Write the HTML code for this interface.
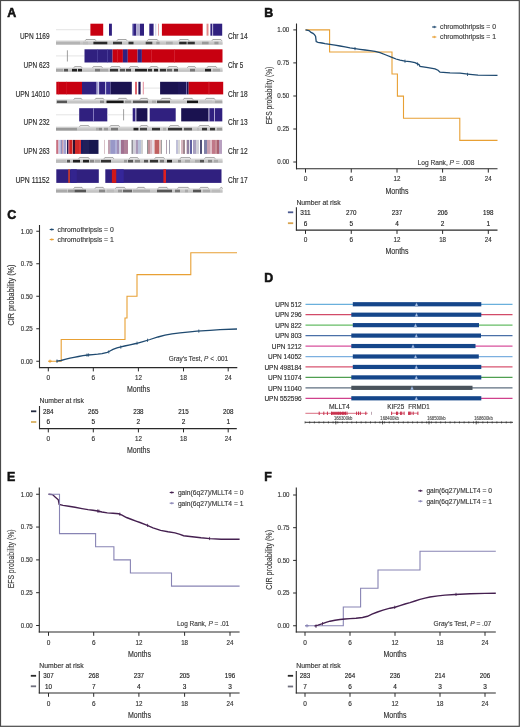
<!DOCTYPE html><html><head><meta charset="utf-8"><style>html,body{margin:0;padding:0;background:#fff;}svg{display:block;will-change:transform;font-family:"Liberation Sans",sans-serif;}</style></head><body>
<svg width="520" height="727" viewBox="0 0 520 727">
<rect x="0.00" y="0.00" width="520.00" height="727.00" fill="#fff"/>
<text x="7.3" y="17.0" font-size="12.4" text-anchor="start" fill="#111" font-weight="bold" stroke="#111" stroke-width="0.55">A</text>
<line x1="56" y1="29.7" x2="90.4" y2="29.7" stroke="#d8d8d8" stroke-width="0.7"/>
<rect x="90.40" y="23.70" width="12.80" height="12.00" fill="#c80010"/>
<rect x="109.00" y="23.70" width="2.90" height="12.00" fill="#30207f"/>
<rect x="132.40" y="23.70" width="1.60" height="12.00" fill="#5048a0"/>
<rect x="134.00" y="23.70" width="2.30" height="12.00" fill="#30207f"/>
<rect x="136.30" y="23.70" width="3.70" height="12.00" fill="#b0acd0"/>
<rect x="140.00" y="23.70" width="4.00" height="12.00" fill="#30207f"/>
<rect x="149.30" y="23.70" width="4.30" height="12.00" fill="#30207f"/>
<rect x="155.40" y="23.70" width="0.80" height="12.00" fill="#c0c0e0"/>
<rect x="158.20" y="23.70" width="0.70" height="12.00" fill="#e08080"/>
<rect x="161.90" y="23.70" width="40.80" height="12.00" fill="#c80010"/>
<rect x="206.00" y="23.70" width="0.60" height="12.00" fill="#e8a8a8"/>
<rect x="207.40" y="23.70" width="0.90" height="12.00" fill="#d04040"/>
<rect x="210.40" y="23.70" width="2.00" height="12.00" fill="#30207f"/>
<rect x="212.40" y="23.70" width="0.70" height="12.00" fill="#b8b4dc"/>
<rect x="213.10" y="23.70" width="9.10" height="12.00" fill="#30207f"/>
<rect x="56.00" y="40.50" width="166.50" height="4.10" fill="#d6d6d6"/>
<rect x="56.00" y="42.34" width="166.50" height="2.26" fill="#c4c4c4"/>
<rect x="56.00" y="41.73" width="24.00" height="2.54" fill="#b4b4b4"/>
<rect x="83.00" y="41.73" width="5.00" height="2.54" fill="#bdbdbd"/>
<rect x="93.40" y="41.73" width="13.90" height="2.54" fill="#2a2a2a"/>
<rect x="113.00" y="41.73" width="9.00" height="2.54" fill="#3a3a3a"/>
<rect x="128.50" y="41.73" width="5.00" height="2.54" fill="#333"/>
<rect x="145.70" y="41.73" width="6.60" height="2.54" fill="#444"/>
<rect x="156.30" y="41.73" width="3.30" height="2.54" fill="#999"/>
<rect x="166.00" y="41.73" width="6.70" height="2.54" fill="#aaa"/>
<rect x="179.20" y="41.73" width="7.40" height="2.54" fill="#2a2a2a"/>
<rect x="187.60" y="41.73" width="7.20" height="2.54" fill="#333"/>
<rect x="202.00" y="41.73" width="6.60" height="2.54" fill="#999"/>
<rect x="214.40" y="41.73" width="4.10" height="2.54" fill="#999"/>
<polyline points="85.2,40.7 86.0,39.5 95.10000000000001,39.5 95.9,40.7" fill="none" stroke="#808080" stroke-width="0.7"/>
<polyline points="117,40.7 117.8,39.5 126.2,39.5 127,40.7" fill="none" stroke="#808080" stroke-width="0.7"/>
<polyline points="147.4,40.7 148.20000000000002,39.5 157.2,39.5 158,40.7" fill="none" stroke="#808080" stroke-width="0.7"/>
<polyline points="179,40.7 179.8,39.5 188.2,39.5 189,40.7" fill="none" stroke="#808080" stroke-width="0.7"/>
<polyline points="212,40.7 212.8,39.5 220.89999999999998,39.5 221.7,40.7" fill="none" stroke="#808080" stroke-width="0.7"/>
<text x="49.6" y="39.05" font-size="8.3" text-anchor="end" fill="#2a2a2a" font-weight="normal" textLength="29.7" lengthAdjust="spacingAndGlyphs" stroke="#2a2a2a" stroke-width="0.15">UPN 1169</text>
<text x="227.9" y="39.05" font-size="8.3" text-anchor="start" fill="#2a2a2a" font-weight="normal" textLength="19.8" lengthAdjust="spacingAndGlyphs" stroke="#2a2a2a" stroke-width="0.15">Chr 14</text>
<line x1="56" y1="55.9" x2="84.5" y2="55.9" stroke="#d8d8d8" stroke-width="0.7"/>
<line x1="67.4" y1="50.3" x2="67.4" y2="61.5" stroke="#888" stroke-width="0.8"/>
<rect x="84.50" y="49.30" width="28.10" height="13.20" fill="#30207f"/>
<rect x="97.10" y="49.30" width="0.60" height="13.20" fill="#5a50a8"/>
<rect x="107.10" y="49.30" width="0.60" height="13.20" fill="#5a50a8"/>
<rect x="112.60" y="49.30" width="10.30" height="13.20" fill="#c80010"/>
<rect x="117.00" y="49.30" width="0.60" height="13.20" fill="#d83040"/>
<rect x="122.90" y="49.30" width="4.90" height="13.20" fill="#30207f"/>
<rect x="127.80" y="49.30" width="9.80" height="13.20" fill="#c80010"/>
<rect x="137.60" y="49.30" width="4.30" height="13.20" fill="#30207f"/>
<rect x="141.90" y="49.30" width="80.60" height="13.20" fill="#c80010"/>
<rect x="151.20" y="49.30" width="0.60" height="13.20" fill="#d83040"/>
<rect x="174.00" y="49.30" width="0.60" height="13.20" fill="#d83040"/>
<rect x="56.00" y="67.60" width="166.50" height="4.20" fill="#d6d6d6"/>
<rect x="56.00" y="69.49" width="166.50" height="2.31" fill="#c4c4c4"/>
<rect x="56.00" y="68.86" width="7.00" height="2.60" fill="#a8a8a8"/>
<rect x="64.00" y="68.86" width="4.00" height="2.60" fill="#555"/>
<rect x="72.00" y="68.86" width="5.00" height="2.60" fill="#222"/>
<rect x="78.00" y="68.86" width="4.00" height="2.60" fill="#222"/>
<rect x="95.00" y="68.86" width="5.00" height="2.60" fill="#777"/>
<rect x="100.00" y="68.86" width="8.00" height="2.60" fill="#aaa"/>
<rect x="110.00" y="68.86" width="8.00" height="2.60" fill="#333"/>
<rect x="120.00" y="68.86" width="5.00" height="2.60" fill="#555"/>
<rect x="126.00" y="68.86" width="5.00" height="2.60" fill="#444"/>
<rect x="135.00" y="68.86" width="12.00" height="2.60" fill="#222"/>
<rect x="148.00" y="68.86" width="4.00" height="2.60" fill="#333"/>
<rect x="154.00" y="68.86" width="4.00" height="2.60" fill="#222"/>
<rect x="160.00" y="68.86" width="6.00" height="2.60" fill="#333"/>
<rect x="167.00" y="68.86" width="5.00" height="2.60" fill="#666"/>
<rect x="174.00" y="68.86" width="4.00" height="2.60" fill="#444"/>
<rect x="190.00" y="68.86" width="5.00" height="2.60" fill="#777"/>
<rect x="205.00" y="68.86" width="6.00" height="2.60" fill="#222"/>
<rect x="213.00" y="68.86" width="7.00" height="2.60" fill="#aaa"/>
<polyline points="73.8,67.8 74.6,66.6 81.2,66.6 82,67.8" fill="none" stroke="#808080" stroke-width="0.7"/>
<polyline points="92.6,67.8 93.39999999999999,66.6 101.60000000000001,66.6 102.4,67.8" fill="none" stroke="#808080" stroke-width="0.7"/>
<polyline points="110.6,67.8 111.39999999999999,66.6 119.60000000000001,66.6 120.4,67.8" fill="none" stroke="#808080" stroke-width="0.7"/>
<polyline points="129.4,67.8 130.20000000000002,66.6 137.6,66.6 138.4,67.8" fill="none" stroke="#808080" stroke-width="0.7"/>
<polyline points="149.8,67.8 150.60000000000002,66.6 157.2,66.6 158,67.8" fill="none" stroke="#808080" stroke-width="0.7"/>
<polyline points="167.8,67.8 168.60000000000002,66.6 176.79999999999998,66.6 177.6,67.8" fill="none" stroke="#808080" stroke-width="0.7"/>
<polyline points="187.4,67.8 188.20000000000002,66.6 194.79999999999998,66.6 195.6,67.8" fill="none" stroke="#808080" stroke-width="0.7"/>
<polyline points="207,67.8 207.8,66.6 216.0,66.6 216.8,67.8" fill="none" stroke="#808080" stroke-width="0.7"/>
<text x="49.6" y="67.95" font-size="8.3" text-anchor="end" fill="#2a2a2a" font-weight="normal" textLength="26.0" lengthAdjust="spacingAndGlyphs" stroke="#2a2a2a" stroke-width="0.15">UPN 623</text>
<text x="227.9" y="67.95" font-size="8.3" text-anchor="start" fill="#2a2a2a" font-weight="normal" textLength="15.5" lengthAdjust="spacingAndGlyphs" stroke="#2a2a2a" stroke-width="0.15">Chr 5</text>
<rect x="56.30" y="81.80" width="25.70" height="12.60" fill="#c80010"/>
<rect x="58.40" y="81.80" width="0.60" height="12.60" fill="#d41828"/>
<rect x="66.20" y="81.80" width="0.60" height="12.60" fill="#d41828"/>
<rect x="82.00" y="81.80" width="14.70" height="12.60" fill="#30207f"/>
<rect x="96.70" y="81.80" width="0.80" height="12.60" fill="#c8c8e8"/>
<rect x="97.50" y="81.80" width="0.80" height="12.60" fill="#6a62b0"/>
<rect x="98.30" y="81.80" width="0.80" height="12.60" fill="#c8c8e8"/>
<rect x="99.10" y="81.80" width="6.20" height="12.60" fill="#30207f"/>
<rect x="105.30" y="81.80" width="0.80" height="12.60" fill="#b8b8e0"/>
<rect x="106.10" y="81.80" width="4.50" height="12.60" fill="#3a2e90"/>
<rect x="110.60" y="81.80" width="21.20" height="12.60" fill="#1a1250"/>
<rect x="135.40" y="81.80" width="1.20" height="12.60" fill="#c80010"/>
<rect x="138.40" y="81.80" width="2.20" height="12.60" fill="#1a1250"/>
<rect x="142.80" y="81.80" width="0.90" height="12.60" fill="#e08090"/>
<line x1="144" y1="88.1" x2="160" y2="88.1" stroke="#d8d8d8" stroke-width="0.7"/>
<rect x="160.10" y="81.80" width="17.90" height="12.60" fill="#1a1250"/>
<rect x="178.00" y="81.80" width="8.00" height="12.60" fill="#1e1558"/>
<rect x="186.00" y="81.80" width="0.80" height="12.60" fill="#6a62b0"/>
<rect x="186.80" y="81.80" width="1.90" height="12.60" fill="#1a1250"/>
<rect x="188.70" y="81.80" width="34.50" height="12.60" fill="#c80010"/>
<rect x="208.60" y="81.80" width="0.70" height="12.60" fill="#d83040"/>
<rect x="56.00" y="99.40" width="166.50" height="4.00" fill="#d6d6d6"/>
<rect x="56.00" y="101.20" width="166.50" height="2.20" fill="#c4c4c4"/>
<rect x="57.00" y="100.60" width="10.00" height="2.48" fill="#555"/>
<rect x="100.00" y="100.60" width="4.00" height="2.48" fill="#888"/>
<rect x="106.50" y="100.60" width="17.10" height="2.48" fill="#151515"/>
<rect x="125.00" y="100.60" width="6.00" height="2.48" fill="#999"/>
<rect x="133.00" y="100.60" width="15.00" height="2.48" fill="#555"/>
<rect x="152.00" y="100.60" width="4.00" height="2.48" fill="#aaa"/>
<rect x="157.00" y="100.60" width="13.00" height="2.48" fill="#444"/>
<rect x="187.00" y="100.60" width="11.00" height="2.48" fill="#151515"/>
<rect x="200.00" y="100.60" width="12.00" height="2.48" fill="#c4c4c4"/>
<rect x="215.00" y="100.60" width="7.00" height="2.48" fill="#aaa"/>
<polyline points="73.8,99.60000000000001 74.6,98.4 81.2,98.4 82,99.60000000000001" fill="none" stroke="#808080" stroke-width="0.7"/>
<polyline points="95,99.60000000000001 95.8,98.4 103.2,98.4 104,99.60000000000001" fill="none" stroke="#808080" stroke-width="0.7"/>
<polyline points="118,99.60000000000001 118.8,98.4 126.2,98.4 127,99.60000000000001" fill="none" stroke="#808080" stroke-width="0.7"/>
<polyline points="140,99.60000000000001 140.8,98.4 147.2,98.4 148,99.60000000000001" fill="none" stroke="#808080" stroke-width="0.7"/>
<polyline points="161,99.60000000000001 161.8,98.4 170.2,98.4 171,99.60000000000001" fill="none" stroke="#808080" stroke-width="0.7"/>
<polyline points="183.3,99.60000000000001 184.10000000000002,98.4 192.2,98.4 193,99.60000000000001" fill="none" stroke="#808080" stroke-width="0.7"/>
<polyline points="205.4,99.60000000000001 206.20000000000002,98.4 214.2,98.4 215,99.60000000000001" fill="none" stroke="#808080" stroke-width="0.7"/>
<text x="49.6" y="96.75" font-size="8.3" text-anchor="end" fill="#2a2a2a" font-weight="normal" textLength="34.2" lengthAdjust="spacingAndGlyphs" stroke="#2a2a2a" stroke-width="0.15">UPN 14010</text>
<text x="227.9" y="96.75" font-size="8.3" text-anchor="start" fill="#2a2a2a" font-weight="normal" textLength="19.8" lengthAdjust="spacingAndGlyphs" stroke="#2a2a2a" stroke-width="0.15">Chr 18</text>
<line x1="56" y1="114.8" x2="79.2" y2="114.8" stroke="#d8d8d8" stroke-width="0.7"/>
<rect x="79.20" y="108.20" width="28.10" height="13.20" fill="#30207f"/>
<rect x="93.10" y="108.20" width="0.70" height="13.20" fill="#a8a0d8"/>
<line x1="107.3" y1="114.8" x2="132.7" y2="114.8" stroke="#d8d8d8" stroke-width="0.7"/>
<line x1="123.6" y1="109.2" x2="123.6" y2="120.4" stroke="#888" stroke-width="0.8"/>
<rect x="132.70" y="108.20" width="2.80" height="13.20" fill="#30207f"/>
<rect x="135.50" y="108.20" width="0.90" height="13.20" fill="#b0a8d8"/>
<rect x="136.40" y="108.20" width="11.00" height="13.20" fill="#1a1250"/>
<rect x="149.70" y="108.20" width="26.00" height="13.20" fill="#30207f"/>
<rect x="181.20" y="108.20" width="27.40" height="13.20" fill="#1a1250"/>
<rect x="208.60" y="108.20" width="0.80" height="13.20" fill="#a8a0d0"/>
<rect x="209.40" y="108.20" width="4.80" height="13.20" fill="#30207f"/>
<rect x="214.20" y="108.20" width="0.80" height="13.20" fill="#a8a0d0"/>
<rect x="215.00" y="108.20" width="7.30" height="13.20" fill="#30207f"/>
<rect x="56.00" y="126.60" width="166.50" height="4.10" fill="#d6d6d6"/>
<rect x="56.00" y="128.44" width="166.50" height="2.25" fill="#c4c4c4"/>
<rect x="56.00" y="127.83" width="21.00" height="2.54" fill="#9a9a9a"/>
<rect x="96.00" y="127.83" width="3.00" height="2.54" fill="#aaa"/>
<rect x="99.00" y="127.83" width="3.00" height="2.54" fill="#888"/>
<rect x="104.00" y="127.83" width="4.00" height="2.54" fill="#999"/>
<rect x="111.00" y="127.83" width="7.00" height="2.54" fill="#777"/>
<rect x="133.50" y="127.83" width="4.90" height="2.54" fill="#222"/>
<rect x="140.00" y="127.83" width="7.00" height="2.54" fill="#444"/>
<rect x="152.00" y="127.83" width="8.00" height="2.54" fill="#333"/>
<rect x="163.00" y="127.83" width="3.00" height="2.54" fill="#aaa"/>
<rect x="168.00" y="127.83" width="14.00" height="2.54" fill="#333"/>
<rect x="184.00" y="127.83" width="8.00" height="2.54" fill="#555"/>
<rect x="197.00" y="127.83" width="2.00" height="2.54" fill="#bbb"/>
<rect x="202.00" y="127.83" width="5.00" height="2.54" fill="#333"/>
<rect x="210.00" y="127.83" width="5.00" height="2.54" fill="#333"/>
<rect x="217.00" y="127.83" width="5.00" height="2.54" fill="#999"/>
<polyline points="79.5,126.8 80.3,125.6 88.5,125.6 89.3,126.8" fill="none" stroke="#808080" stroke-width="0.7"/>
<polyline points="109.8,126.8 110.6,125.6 118.8,125.6 119.6,126.8" fill="none" stroke="#808080" stroke-width="0.7"/>
<polyline points="140,126.8 140.8,125.6 147.2,125.6 148,126.8" fill="none" stroke="#808080" stroke-width="0.7"/>
<polyline points="169.4,126.8 170.20000000000002,125.6 178.39999999999998,125.6 179.2,126.8" fill="none" stroke="#808080" stroke-width="0.7"/>
<polyline points="198.8,126.8 199.60000000000002,125.6 208.7,125.6 209.5,126.8" fill="none" stroke="#808080" stroke-width="0.7"/>
<text x="49.6" y="125.15" font-size="8.3" text-anchor="end" fill="#2a2a2a" font-weight="normal" textLength="26.0" lengthAdjust="spacingAndGlyphs" stroke="#2a2a2a" stroke-width="0.15">UPN 232</text>
<text x="227.9" y="125.15" font-size="8.3" text-anchor="start" fill="#2a2a2a" font-weight="normal" textLength="19.8" lengthAdjust="spacingAndGlyphs" stroke="#2a2a2a" stroke-width="0.15">Chr 13</text>
<rect x="56.20" y="139.90" width="2.30" height="14.00" fill="#c87080"/>
<rect x="58.50" y="139.90" width="2.00" height="14.00" fill="#c8c8e4"/>
<rect x="60.50" y="139.90" width="1.50" height="14.00" fill="#9090c0"/>
<rect x="62.00" y="139.90" width="1.50" height="14.00" fill="#c8a0b0"/>
<rect x="63.50" y="139.90" width="2.50" height="14.00" fill="#a0a0d0"/>
<rect x="66.00" y="139.90" width="1.00" height="14.00" fill="#e8e8f0"/>
<rect x="67.00" y="139.90" width="1.50" height="14.00" fill="#201850"/>
<rect x="68.50" y="139.90" width="1.50" height="14.00" fill="#d04050"/>
<rect x="70.00" y="139.90" width="2.00" height="14.00" fill="#d02020"/>
<rect x="72.00" y="139.90" width="1.00" height="14.00" fill="#d08080"/>
<rect x="73.00" y="139.90" width="2.00" height="14.00" fill="#301030"/>
<rect x="75.00" y="139.90" width="4.00" height="14.00" fill="#d02828"/>
<rect x="79.00" y="139.90" width="2.00" height="14.00" fill="#e03030"/>
<rect x="81.00" y="139.90" width="2.00" height="14.00" fill="#1a1a60"/>
<rect x="83.00" y="139.90" width="6.00" height="14.00" fill="#20205a"/>
<rect x="89.00" y="139.90" width="9.50" height="14.00" fill="#181850"/>
<rect x="104.20" y="139.90" width="0.70" height="14.00" fill="#c8a8b0"/>
<rect x="108.00" y="139.90" width="2.00" height="14.00" fill="#c0a0b0"/>
<rect x="110.00" y="139.90" width="1.00" height="14.00" fill="#a8a8c8"/>
<rect x="111.00" y="139.90" width="4.00" height="14.00" fill="#9898c8"/>
<rect x="115.00" y="139.90" width="2.00" height="14.00" fill="#b0b0d8"/>
<rect x="117.00" y="139.90" width="2.00" height="14.00" fill="#a090b8"/>
<rect x="119.00" y="139.90" width="2.00" height="14.00" fill="#d0d0e0"/>
<rect x="121.00" y="139.90" width="3.00" height="14.00" fill="#a07090"/>
<rect x="124.00" y="139.90" width="4.00" height="14.00" fill="#b08098"/>
<rect x="131.50" y="139.90" width="1.50" height="14.00" fill="#909098"/>
<rect x="133.00" y="139.90" width="2.00" height="14.00" fill="#d0d0d8"/>
<rect x="135.50" y="139.90" width="2.50" height="14.00" fill="#a898b8"/>
<rect x="138.00" y="139.90" width="3.00" height="14.00" fill="#b8c0d8"/>
<rect x="141.00" y="139.90" width="2.00" height="14.00" fill="#d0d0d0"/>
<rect x="147.00" y="139.90" width="1.00" height="14.00" fill="#909090"/>
<rect x="148.00" y="139.90" width="2.00" height="14.00" fill="#c09098"/>
<rect x="150.00" y="139.90" width="2.00" height="14.00" fill="#d8b8c0"/>
<rect x="152.00" y="139.90" width="2.00" height="14.00" fill="#e8e0e8"/>
<rect x="154.50" y="139.90" width="4.50" height="14.00" fill="#c06060"/>
<rect x="159.00" y="139.90" width="2.00" height="14.00" fill="#e0c0c0"/>
<rect x="161.00" y="139.90" width="1.00" height="14.00" fill="#a0a0a0"/>
<rect x="166.00" y="139.90" width="1.00" height="14.00" fill="#b0a0b0"/>
<rect x="169.00" y="139.90" width="1.00" height="14.00" fill="#a0a0b0"/>
<rect x="176.00" y="139.90" width="2.00" height="14.00" fill="#c0c0d8"/>
<rect x="178.00" y="139.90" width="2.00" height="14.00" fill="#d8d8d8"/>
<rect x="181.00" y="139.90" width="2.00" height="14.00" fill="#d8b8c0"/>
<rect x="183.00" y="139.90" width="2.00" height="14.00" fill="#a08890"/>
<rect x="186.00" y="139.90" width="1.00" height="14.00" fill="#e0d0d8"/>
<rect x="187.00" y="139.90" width="2.00" height="14.00" fill="#9080a0"/>
<rect x="189.00" y="139.90" width="1.00" height="14.00" fill="#e0e0e8"/>
<rect x="190.00" y="139.90" width="2.00" height="14.00" fill="#6060a0"/>
<rect x="193.00" y="139.90" width="3.00" height="14.00" fill="#a8a0c0"/>
<rect x="196.00" y="139.90" width="3.00" height="14.00" fill="#d0d0d8"/>
<rect x="200.00" y="139.90" width="2.00" height="14.00" fill="#505078"/>
<rect x="204.00" y="139.90" width="3.00" height="14.00" fill="#8080a8"/>
<rect x="207.00" y="139.90" width="3.00" height="14.00" fill="#c8a0b0"/>
<rect x="210.00" y="139.90" width="2.00" height="14.00" fill="#e0c0c8"/>
<rect x="212.00" y="139.90" width="3.00" height="14.00" fill="#c07888"/>
<rect x="215.00" y="139.90" width="2.00" height="14.00" fill="#c89098"/>
<rect x="217.00" y="139.90" width="2.00" height="14.00" fill="#a86070"/>
<rect x="219.00" y="139.90" width="3.00" height="14.00" fill="#b8a0c0"/>
<rect x="56.00" y="158.60" width="166.50" height="4.20" fill="#d6d6d6"/>
<rect x="56.00" y="160.49" width="166.50" height="2.31" fill="#c4c4c4"/>
<rect x="56.00" y="159.86" width="10.00" height="2.60" fill="#bbb"/>
<rect x="67.00" y="159.86" width="3.00" height="2.60" fill="#555"/>
<rect x="73.00" y="159.86" width="7.00" height="2.60" fill="#222"/>
<rect x="83.00" y="159.86" width="6.00" height="2.60" fill="#222"/>
<rect x="90.00" y="159.86" width="4.00" height="2.60" fill="#888"/>
<rect x="95.00" y="159.86" width="5.00" height="2.60" fill="#aaa"/>
<rect x="101.00" y="159.86" width="10.00" height="2.60" fill="#333"/>
<rect x="124.00" y="159.86" width="3.00" height="2.60" fill="#999"/>
<rect x="128.00" y="159.86" width="5.00" height="2.60" fill="#555"/>
<rect x="135.00" y="159.86" width="5.00" height="2.60" fill="#888"/>
<rect x="144.00" y="159.86" width="4.00" height="2.60" fill="#555"/>
<rect x="150.00" y="159.86" width="8.00" height="2.60" fill="#333"/>
<rect x="160.00" y="159.86" width="4.00" height="2.60" fill="#777"/>
<rect x="167.00" y="159.86" width="5.00" height="2.60" fill="#222"/>
<rect x="178.00" y="159.86" width="3.00" height="2.60" fill="#888"/>
<rect x="185.00" y="159.86" width="5.00" height="2.60" fill="#aaa"/>
<rect x="195.00" y="159.86" width="5.00" height="2.60" fill="#aaa"/>
<rect x="200.00" y="159.86" width="4.00" height="2.60" fill="#555"/>
<rect x="208.00" y="159.86" width="4.00" height="2.60" fill="#888"/>
<rect x="214.00" y="159.86" width="4.00" height="2.60" fill="#aaa"/>
<polyline points="78.7,158.79999999999998 79.5,157.6 88.5,157.6 89.3,158.79999999999998" fill="none" stroke="#808080" stroke-width="0.7"/>
<polyline points="104,158.79999999999998 104.8,157.6 113.0,157.6 113.8,158.79999999999998" fill="none" stroke="#808080" stroke-width="0.7"/>
<polyline points="129.4,158.79999999999998 130.20000000000002,157.6 137.6,157.6 138.4,158.79999999999998" fill="none" stroke="#808080" stroke-width="0.7"/>
<polyline points="154.7,158.79999999999998 155.5,157.6 163.7,157.6 164.5,158.79999999999998" fill="none" stroke="#808080" stroke-width="0.7"/>
<polyline points="180,158.79999999999998 180.8,157.6 189.89999999999998,157.6 190.7,158.79999999999998" fill="none" stroke="#808080" stroke-width="0.7"/>
<polyline points="204.6,158.79999999999998 205.4,157.6 214.39999999999998,157.6 215.2,158.79999999999998" fill="none" stroke="#808080" stroke-width="0.7"/>
<text x="49.6" y="154.15" font-size="8.3" text-anchor="end" fill="#2a2a2a" font-weight="normal" textLength="26.0" lengthAdjust="spacingAndGlyphs" stroke="#2a2a2a" stroke-width="0.15">UPN 263</text>
<text x="227.9" y="154.15" font-size="8.3" text-anchor="start" fill="#2a2a2a" font-weight="normal" textLength="19.8" lengthAdjust="spacingAndGlyphs" stroke="#2a2a2a" stroke-width="0.15">Chr 12</text>
<rect x="56.30" y="169.30" width="42.50" height="13.60" fill="#30207f"/>
<rect x="68.30" y="169.30" width="1.50" height="13.60" fill="#e04020"/>
<rect x="70.60" y="169.30" width="6.20" height="13.60" fill="#33248e"/>
<rect x="105.30" y="169.30" width="116.20" height="13.60" fill="#30207f"/>
<rect x="111.90" y="169.30" width="4.90" height="13.60" fill="#d01818"/>
<rect x="116.30" y="169.30" width="7.40" height="13.60" fill="#35269a"/>
<rect x="163.40" y="169.30" width="2.60" height="13.60" fill="#e02020"/>
<rect x="56.00" y="188.40" width="166.50" height="4.20" fill="#d6d6d6"/>
<rect x="56.00" y="190.29" width="166.50" height="2.31" fill="#c4c4c4"/>
<rect x="56.00" y="189.66" width="11.00" height="2.60" fill="#aaa"/>
<rect x="68.00" y="189.66" width="6.60" height="2.60" fill="#999"/>
<rect x="74.60" y="189.66" width="11.40" height="2.60" fill="#555"/>
<rect x="99.00" y="189.66" width="6.00" height="2.60" fill="#888"/>
<rect x="107.00" y="189.66" width="7.00" height="2.60" fill="#bbb"/>
<rect x="118.00" y="189.66" width="4.00" height="2.60" fill="#999"/>
<rect x="123.00" y="189.66" width="9.00" height="2.60" fill="#666"/>
<rect x="133.00" y="189.66" width="17.00" height="2.60" fill="#aaa"/>
<rect x="157.00" y="189.66" width="15.00" height="2.60" fill="#555"/>
<rect x="175.00" y="189.66" width="5.00" height="2.60" fill="#777"/>
<rect x="185.00" y="189.66" width="3.00" height="2.60" fill="#aaa"/>
<rect x="193.00" y="189.66" width="8.00" height="2.60" fill="#555"/>
<rect x="203.00" y="189.66" width="7.00" height="2.60" fill="#aaa"/>
<rect x="212.00" y="189.66" width="8.00" height="2.60" fill="#bbb"/>
<polyline points="73.8,188.6 74.6,187.4 82.0,187.4 82.8,188.6" fill="none" stroke="#808080" stroke-width="0.7"/>
<polyline points="95,188.6 95.8,187.4 103.2,187.4 104,188.6" fill="none" stroke="#808080" stroke-width="0.7"/>
<polyline points="115.5,188.6 116.3,187.4 124.5,187.4 125.3,188.6" fill="none" stroke="#808080" stroke-width="0.7"/>
<polyline points="137,188.6 137.8,187.4 144.2,187.4 145,188.6" fill="none" stroke="#808080" stroke-width="0.7"/>
<polyline points="158,188.6 158.8,187.4 167.0,187.4 167.8,188.6" fill="none" stroke="#808080" stroke-width="0.7"/>
<polyline points="177.6,188.6 178.4,187.4 188.2,187.4 189,188.6" fill="none" stroke="#808080" stroke-width="0.7"/>
<polyline points="199.7,188.6 200.5,187.4 207.79999999999998,187.4 208.6,188.6" fill="none" stroke="#808080" stroke-width="0.7"/>
<polyline points="220,188.6 220.8,187.4 221.7,187.4 222.5,188.6" fill="none" stroke="#808080" stroke-width="0.7"/>
<text x="49.6" y="183.35" font-size="8.3" text-anchor="end" fill="#2a2a2a" font-weight="normal" textLength="34.2" lengthAdjust="spacingAndGlyphs" stroke="#2a2a2a" stroke-width="0.15">UPN 11152</text>
<text x="227.9" y="183.35" font-size="8.3" text-anchor="start" fill="#2a2a2a" font-weight="normal" textLength="19.8" lengthAdjust="spacingAndGlyphs" stroke="#2a2a2a" stroke-width="0.15">Chr 17</text>
<text x="264.15" y="16.900000000000002" font-size="12.4" text-anchor="start" fill="#111" font-weight="bold" stroke="#111" stroke-width="0.55">B</text>
<line x1="296.5" y1="23.5" x2="296.5" y2="169.3" stroke="#2a2a2a" stroke-width="1.1"/>
<line x1="296.0" y1="168.8" x2="497.5" y2="168.8" stroke="#2a2a2a" stroke-width="1.1"/>
<line x1="293.3" y1="29.9" x2="296.5" y2="29.9" stroke="#2a2a2a" stroke-width="1"/>
<text x="289.3" y="32.31" font-size="6.8" text-anchor="end" fill="#333" font-weight="normal" textLength="12.0" lengthAdjust="spacingAndGlyphs" stroke="#333" stroke-width="0.15">1.00</text>
<line x1="293.3" y1="62.9" x2="296.5" y2="62.9" stroke="#2a2a2a" stroke-width="1"/>
<text x="289.3" y="65.31" font-size="6.8" text-anchor="end" fill="#333" font-weight="normal" textLength="12.0" lengthAdjust="spacingAndGlyphs" stroke="#333" stroke-width="0.15">0.75</text>
<line x1="293.3" y1="96.0" x2="296.5" y2="96.0" stroke="#2a2a2a" stroke-width="1"/>
<text x="289.3" y="98.41" font-size="6.8" text-anchor="end" fill="#333" font-weight="normal" textLength="12.0" lengthAdjust="spacingAndGlyphs" stroke="#333" stroke-width="0.15">0.50</text>
<line x1="293.3" y1="129.0" x2="296.5" y2="129.0" stroke="#2a2a2a" stroke-width="1"/>
<text x="289.3" y="131.41" font-size="6.8" text-anchor="end" fill="#333" font-weight="normal" textLength="12.0" lengthAdjust="spacingAndGlyphs" stroke="#333" stroke-width="0.15">0.25</text>
<line x1="293.3" y1="162.0" x2="296.5" y2="162.0" stroke="#2a2a2a" stroke-width="1"/>
<text x="289.3" y="164.41" font-size="6.8" text-anchor="end" fill="#333" font-weight="normal" textLength="12.0" lengthAdjust="spacingAndGlyphs" stroke="#333" stroke-width="0.15">0.00</text>
<line x1="305.5" y1="168.8" x2="305.5" y2="172.60000000000002" stroke="#2a2a2a" stroke-width="1"/>
<text x="305.5" y="181.21" font-size="6.8" text-anchor="middle" fill="#333" font-weight="normal" textLength="3.6" lengthAdjust="spacingAndGlyphs" stroke="#333" stroke-width="0.15">0</text>
<line x1="351.25" y1="168.8" x2="351.25" y2="172.60000000000002" stroke="#2a2a2a" stroke-width="1"/>
<text x="351.25" y="181.21" font-size="6.8" text-anchor="middle" fill="#333" font-weight="normal" textLength="3.6" lengthAdjust="spacingAndGlyphs" stroke="#333" stroke-width="0.15">6</text>
<line x1="397" y1="168.8" x2="397" y2="172.60000000000002" stroke="#2a2a2a" stroke-width="1"/>
<text x="397" y="181.21" font-size="6.8" text-anchor="middle" fill="#333" font-weight="normal" textLength="6.9" lengthAdjust="spacingAndGlyphs" stroke="#333" stroke-width="0.15">12</text>
<line x1="442.6" y1="168.8" x2="442.6" y2="172.60000000000002" stroke="#2a2a2a" stroke-width="1"/>
<text x="442.6" y="181.21" font-size="6.8" text-anchor="middle" fill="#333" font-weight="normal" textLength="6.9" lengthAdjust="spacingAndGlyphs" stroke="#333" stroke-width="0.15">18</text>
<line x1="488.3" y1="168.8" x2="488.3" y2="172.60000000000002" stroke="#2a2a2a" stroke-width="1"/>
<text x="488.3" y="181.21" font-size="6.8" text-anchor="middle" fill="#333" font-weight="normal" textLength="6.9" lengthAdjust="spacingAndGlyphs" stroke="#333" stroke-width="0.15">24</text>
<text x="397" y="193.51" font-size="8.2" text-anchor="middle" fill="#333" font-weight="normal" textLength="23" lengthAdjust="spacingAndGlyphs" stroke="#333" stroke-width="0.15">Months</text>
<text transform="translate(272.0,95.5) rotate(-90)" x="0" y="0" font-size="8.7" text-anchor="middle" fill="#3a3a3a" stroke="#3a3a3a" stroke-width="0.15" textLength="57.7" lengthAdjust="spacingAndGlyphs">EFS probability (%)</text>
<polyline points="305.50,29.90 329.60,29.90 329.60,52.00 392.00,52.00 392.00,74.00 397.40,74.00 397.40,96.10 403.50,96.10 403.50,118.20 459.80,118.20 459.80,140.40 497.50,140.40 497.50,140.40" fill="none" stroke="#e8a034" stroke-width="1.1" stroke-linejoin="miter"/>
<polyline points="305.50,29.90 309.00,30.60 311.00,32.40 313.00,33.40 314.50,34.60 315.60,36.40 316.20,41.60 318.00,42.40 322.00,43.00 325.00,43.60 330.00,44.40 335.00,45.20 340.00,46.00 345.00,46.80 350.00,47.90 355.00,48.60 360.00,49.30 365.00,50.00 370.00,50.60 375.00,51.40 380.00,52.60 386.00,55.00 392.00,57.30 396.00,59.00 400.00,60.20 405.00,61.20 410.00,61.60 415.00,62.60 419.00,64.60 420.00,66.40 428.00,67.60 435.00,68.80 438.00,70.20 440.00,72.20 450.00,72.90 460.00,73.20 470.00,74.30 478.00,75.10 497.50,75.30" fill="none" stroke="#1f4a70" stroke-width="1.3" stroke-linejoin="miter"/>
<line x1="355" y1="47.0" x2="355" y2="50.2" stroke="#1f4a70" stroke-width="0.8"/>
<line x1="405" y1="59.6" x2="405" y2="62.8" stroke="#1f4a70" stroke-width="0.8"/>
<line x1="417.5" y1="62.4" x2="417.5" y2="65.6" stroke="#1f4a70" stroke-width="0.8"/>
<line x1="467.5" y1="72.8" x2="467.5" y2="76.0" stroke="#1f4a70" stroke-width="0.8"/>
<line x1="432.2" y1="27.0" x2="436.3" y2="27.0" stroke="#1f4a70" stroke-width="1.2"/>
<line x1="434.3" y1="25.8" x2="434.3" y2="28.2" stroke="#1f4a70" stroke-width="0.8"/>
<text x="440" y="29.48" font-size="7" text-anchor="start" fill="#3a3a3a" font-weight="normal" textLength="56" lengthAdjust="spacingAndGlyphs" stroke="#3a3a3a" stroke-width="0.15">chromothripsis = 0</text>
<line x1="432.2" y1="37.0" x2="436.3" y2="37.0" stroke="#e8a034" stroke-width="1.2"/>
<line x1="434.3" y1="35.8" x2="434.3" y2="38.2" stroke="#e8a034" stroke-width="0.8"/>
<text x="440" y="39.48" font-size="7" text-anchor="start" fill="#3a3a3a" font-weight="normal" textLength="56" lengthAdjust="spacingAndGlyphs" stroke="#3a3a3a" stroke-width="0.15">chromothripsis = 1</text>
<text x="417.5" y="164.99" font-size="7" fill="#3a3a3a" stroke="#3a3a3a" stroke-width="0.15" textLength="57" lengthAdjust="spacingAndGlyphs">Log Rank, <tspan font-style="italic">P</tspan> = .008</text>
<text x="296.4" y="204.56" font-size="7.2" text-anchor="start" fill="#333" font-weight="normal" textLength="44.3" lengthAdjust="spacingAndGlyphs" stroke="#333" stroke-width="0.15">Number at risk</text>
<line x1="296.4" y1="207.3" x2="296.4" y2="230.6" stroke="#2a2a2a" stroke-width="1.1"/>
<line x1="295.9" y1="230.1" x2="497.5" y2="230.1" stroke="#2a2a2a" stroke-width="1.1"/>
<line x1="287.9" y1="212.3" x2="293.2" y2="212.3" stroke="#4a5a90" stroke-width="1.8"/>
<text x="305.5" y="214.71" font-size="6.8" text-anchor="middle" fill="#222" font-weight="normal" textLength="10.4" lengthAdjust="spacingAndGlyphs" stroke="#222" stroke-width="0.15">311</text>
<text x="351.25" y="214.71" font-size="6.8" text-anchor="middle" fill="#222" font-weight="normal" textLength="10.4" lengthAdjust="spacingAndGlyphs" stroke="#222" stroke-width="0.15">270</text>
<text x="397" y="214.71" font-size="6.8" text-anchor="middle" fill="#222" font-weight="normal" textLength="10.4" lengthAdjust="spacingAndGlyphs" stroke="#222" stroke-width="0.15">237</text>
<text x="442.6" y="214.71" font-size="6.8" text-anchor="middle" fill="#222" font-weight="normal" textLength="10.4" lengthAdjust="spacingAndGlyphs" stroke="#222" stroke-width="0.15">206</text>
<text x="488.3" y="214.71" font-size="6.8" text-anchor="middle" fill="#222" font-weight="normal" textLength="10.4" lengthAdjust="spacingAndGlyphs" stroke="#222" stroke-width="0.15">198</text>
<line x1="287.9" y1="223.2" x2="293.2" y2="223.2" stroke="#d8a450" stroke-width="1.8"/>
<text x="305.5" y="225.61" font-size="6.8" text-anchor="middle" fill="#222" font-weight="normal" textLength="3.6" lengthAdjust="spacingAndGlyphs" stroke="#222" stroke-width="0.15">6</text>
<text x="351.25" y="225.61" font-size="6.8" text-anchor="middle" fill="#222" font-weight="normal" textLength="3.6" lengthAdjust="spacingAndGlyphs" stroke="#222" stroke-width="0.15">5</text>
<text x="397" y="225.61" font-size="6.8" text-anchor="middle" fill="#222" font-weight="normal" textLength="3.6" lengthAdjust="spacingAndGlyphs" stroke="#222" stroke-width="0.15">4</text>
<text x="442.6" y="225.61" font-size="6.8" text-anchor="middle" fill="#222" font-weight="normal" textLength="3.6" lengthAdjust="spacingAndGlyphs" stroke="#222" stroke-width="0.15">2</text>
<text x="488.3" y="225.61" font-size="6.8" text-anchor="middle" fill="#222" font-weight="normal" textLength="3.6" lengthAdjust="spacingAndGlyphs" stroke="#222" stroke-width="0.15">1</text>
<line x1="305.5" y1="230.1" x2="305.5" y2="233.9" stroke="#2a2a2a" stroke-width="1"/>
<text x="305.5" y="241.81" font-size="6.8" text-anchor="middle" fill="#333" font-weight="normal" textLength="3.6" lengthAdjust="spacingAndGlyphs" stroke="#333" stroke-width="0.15">0</text>
<line x1="351.25" y1="230.1" x2="351.25" y2="233.9" stroke="#2a2a2a" stroke-width="1"/>
<text x="351.25" y="241.81" font-size="6.8" text-anchor="middle" fill="#333" font-weight="normal" textLength="3.6" lengthAdjust="spacingAndGlyphs" stroke="#333" stroke-width="0.15">6</text>
<line x1="397" y1="230.1" x2="397" y2="233.9" stroke="#2a2a2a" stroke-width="1"/>
<text x="397" y="241.81" font-size="6.8" text-anchor="middle" fill="#333" font-weight="normal" textLength="6.9" lengthAdjust="spacingAndGlyphs" stroke="#333" stroke-width="0.15">12</text>
<line x1="442.6" y1="230.1" x2="442.6" y2="233.9" stroke="#2a2a2a" stroke-width="1"/>
<text x="442.6" y="241.81" font-size="6.8" text-anchor="middle" fill="#333" font-weight="normal" textLength="6.9" lengthAdjust="spacingAndGlyphs" stroke="#333" stroke-width="0.15">18</text>
<line x1="488.3" y1="230.1" x2="488.3" y2="233.9" stroke="#2a2a2a" stroke-width="1"/>
<text x="488.3" y="241.81" font-size="6.8" text-anchor="middle" fill="#333" font-weight="normal" textLength="6.9" lengthAdjust="spacingAndGlyphs" stroke="#333" stroke-width="0.15">24</text>
<text x="397" y="253.81" font-size="8.2" text-anchor="middle" fill="#333" font-weight="normal" textLength="23" lengthAdjust="spacingAndGlyphs" stroke="#333" stroke-width="0.15">Months</text>
<text x="7.15" y="218.60000000000002" font-size="12.4" text-anchor="start" fill="#111" font-weight="bold" stroke="#111" stroke-width="0.55">C</text>
<line x1="39.5" y1="225.0" x2="39.5" y2="368.1" stroke="#2a2a2a" stroke-width="1.1"/>
<line x1="39.0" y1="367.6" x2="237.3" y2="367.6" stroke="#2a2a2a" stroke-width="1.1"/>
<line x1="36.3" y1="231.25" x2="39.5" y2="231.25" stroke="#2a2a2a" stroke-width="1"/>
<text x="32.75" y="233.66" font-size="6.8" text-anchor="end" fill="#333" font-weight="normal" textLength="12.0" lengthAdjust="spacingAndGlyphs" stroke="#333" stroke-width="0.15">1.00</text>
<line x1="36.3" y1="263.75" x2="39.5" y2="263.75" stroke="#2a2a2a" stroke-width="1"/>
<text x="32.75" y="266.16" font-size="6.8" text-anchor="end" fill="#333" font-weight="normal" textLength="12.0" lengthAdjust="spacingAndGlyphs" stroke="#333" stroke-width="0.15">0.75</text>
<line x1="36.3" y1="296.25" x2="39.5" y2="296.25" stroke="#2a2a2a" stroke-width="1"/>
<text x="32.75" y="298.66" font-size="6.8" text-anchor="end" fill="#333" font-weight="normal" textLength="12.0" lengthAdjust="spacingAndGlyphs" stroke="#333" stroke-width="0.15">0.50</text>
<line x1="36.3" y1="328.75" x2="39.5" y2="328.75" stroke="#2a2a2a" stroke-width="1"/>
<text x="32.75" y="331.16" font-size="6.8" text-anchor="end" fill="#333" font-weight="normal" textLength="12.0" lengthAdjust="spacingAndGlyphs" stroke="#333" stroke-width="0.15">0.25</text>
<line x1="36.3" y1="361.25" x2="39.5" y2="361.25" stroke="#2a2a2a" stroke-width="1"/>
<text x="32.75" y="363.66" font-size="6.8" text-anchor="end" fill="#333" font-weight="normal" textLength="12.0" lengthAdjust="spacingAndGlyphs" stroke="#333" stroke-width="0.15">0.00</text>
<line x1="48.3" y1="367.6" x2="48.3" y2="371.40000000000003" stroke="#2a2a2a" stroke-width="1"/>
<text x="48.3" y="380.01" font-size="6.8" text-anchor="middle" fill="#333" font-weight="normal" textLength="3.6" lengthAdjust="spacingAndGlyphs" stroke="#333" stroke-width="0.15">0</text>
<line x1="93.3" y1="367.6" x2="93.3" y2="371.40000000000003" stroke="#2a2a2a" stroke-width="1"/>
<text x="93.3" y="380.01" font-size="6.8" text-anchor="middle" fill="#333" font-weight="normal" textLength="3.6" lengthAdjust="spacingAndGlyphs" stroke="#333" stroke-width="0.15">6</text>
<line x1="138.4" y1="367.6" x2="138.4" y2="371.40000000000003" stroke="#2a2a2a" stroke-width="1"/>
<text x="138.4" y="380.01" font-size="6.8" text-anchor="middle" fill="#333" font-weight="normal" textLength="6.9" lengthAdjust="spacingAndGlyphs" stroke="#333" stroke-width="0.15">12</text>
<line x1="183.5" y1="367.6" x2="183.5" y2="371.40000000000003" stroke="#2a2a2a" stroke-width="1"/>
<text x="183.5" y="380.01" font-size="6.8" text-anchor="middle" fill="#333" font-weight="normal" textLength="6.9" lengthAdjust="spacingAndGlyphs" stroke="#333" stroke-width="0.15">18</text>
<line x1="228.2" y1="367.6" x2="228.2" y2="371.40000000000003" stroke="#2a2a2a" stroke-width="1"/>
<text x="228.2" y="380.01" font-size="6.8" text-anchor="middle" fill="#333" font-weight="normal" textLength="6.9" lengthAdjust="spacingAndGlyphs" stroke="#333" stroke-width="0.15">24</text>
<text x="138.4" y="392.41" font-size="8.2" text-anchor="middle" fill="#333" font-weight="normal" textLength="23" lengthAdjust="spacingAndGlyphs" stroke="#333" stroke-width="0.15">Months</text>
<text transform="translate(14.3,295.0) rotate(-90)" x="0" y="0" font-size="8.7" text-anchor="middle" fill="#3a3a3a" stroke="#3a3a3a" stroke-width="0.15" textLength="61.0" lengthAdjust="spacingAndGlyphs">CIR probability (%)</text>
<polyline points="48.70,361.25 61.20,361.25 61.20,339.50 125.00,339.50 125.00,318.00 127.00,318.00 127.00,296.25 137.00,296.25 137.00,274.60 190.80,274.60 190.80,252.80 237.00,252.80 237.00,252.80" fill="none" stroke="#e8a034" stroke-width="1.1" stroke-linejoin="miter"/>
<line x1="48.2" y1="361.25" x2="51.8" y2="361.25" stroke="#e8a034" stroke-width="1.2"/>
<line x1="50" y1="359.6" x2="50" y2="362.9" stroke="#e8a034" stroke-width="0.9"/>
<polyline points="56.50,361.20 58.30,360.90 61.00,360.50 65.00,359.40 70.00,358.20 74.00,357.40 78.50,356.50 83.00,355.70 88.00,355.00 93.00,354.60 97.70,354.20 102.00,353.60 107.30,352.30 110.00,351.00 113.00,349.40 117.00,347.90 121.00,346.80 124.60,346.00 130.00,344.80 136.00,343.50 143.00,341.50 150.00,339.50 158.00,337.00 165.00,335.20 172.00,333.80 180.00,332.80 190.00,331.80 197.00,331.20 210.00,330.40 220.00,329.70 237.00,329.00" fill="none" stroke="#1f4a70" stroke-width="1.3" stroke-linejoin="miter"/>
<line x1="87" y1="353.5" x2="87" y2="356.7" stroke="#1f4a70" stroke-width="0.8"/>
<line x1="88.6" y1="353.4" x2="88.6" y2="356.6" stroke="#1f4a70" stroke-width="0.8"/>
<line x1="108.8" y1="350.3" x2="108.8" y2="353.5" stroke="#1f4a70" stroke-width="0.8"/>
<line x1="120.8" y1="345.5" x2="120.8" y2="348.7" stroke="#1f4a70" stroke-width="0.8"/>
<line x1="137" y1="341.6" x2="137" y2="344.8" stroke="#1f4a70" stroke-width="0.8"/>
<line x1="147.5" y1="338.7" x2="147.5" y2="341.9" stroke="#1f4a70" stroke-width="0.8"/>
<line x1="198.8" y1="329.5" x2="198.8" y2="332.7" stroke="#1f4a70" stroke-width="0.8"/>
<line x1="57" y1="359.5" x2="57" y2="362.8" stroke="#1f4a70" stroke-width="0.9"/>
<line x1="49.7" y1="229.5" x2="53.8" y2="229.5" stroke="#1f4a70" stroke-width="1.2"/>
<line x1="51.8" y1="228.3" x2="51.8" y2="230.7" stroke="#1f4a70" stroke-width="0.8"/>
<text x="57.5" y="231.99" font-size="7" text-anchor="start" fill="#3a3a3a" font-weight="normal" textLength="56.3" lengthAdjust="spacingAndGlyphs" stroke="#3a3a3a" stroke-width="0.15">chromothripsis = 0</text>
<line x1="49.7" y1="239.5" x2="53.8" y2="239.5" stroke="#e8a034" stroke-width="1.2"/>
<line x1="51.8" y1="238.3" x2="51.8" y2="240.7" stroke="#e8a034" stroke-width="0.8"/>
<text x="57.5" y="241.99" font-size="7" text-anchor="start" fill="#3a3a3a" font-weight="normal" textLength="56.3" lengthAdjust="spacingAndGlyphs" stroke="#3a3a3a" stroke-width="0.15">chromothripsis = 1</text>
<text x="168.8" y="361.49" font-size="7" fill="#3a3a3a" stroke="#3a3a3a" stroke-width="0.15" textLength="59.3" lengthAdjust="spacingAndGlyphs">Gray’s Test, <tspan font-style="italic">P</tspan> &lt; .001</text>
<text x="39.5" y="403.46" font-size="7.2" text-anchor="start" fill="#333" font-weight="normal" textLength="44.3" lengthAdjust="spacingAndGlyphs" stroke="#333" stroke-width="0.15">Number at risk</text>
<line x1="39.5" y1="406.0" x2="39.5" y2="429.1" stroke="#2a2a2a" stroke-width="1.1"/>
<line x1="39.0" y1="428.6" x2="236.8" y2="428.6" stroke="#2a2a2a" stroke-width="1.1"/>
<line x1="31.0" y1="411.3" x2="36.3" y2="411.3" stroke="#232a40" stroke-width="1.8"/>
<text x="48.3" y="413.71" font-size="6.8" text-anchor="middle" fill="#222" font-weight="normal" textLength="10.4" lengthAdjust="spacingAndGlyphs" stroke="#222" stroke-width="0.15">284</text>
<text x="93.3" y="413.71" font-size="6.8" text-anchor="middle" fill="#222" font-weight="normal" textLength="10.4" lengthAdjust="spacingAndGlyphs" stroke="#222" stroke-width="0.15">265</text>
<text x="138.4" y="413.71" font-size="6.8" text-anchor="middle" fill="#222" font-weight="normal" textLength="10.4" lengthAdjust="spacingAndGlyphs" stroke="#222" stroke-width="0.15">238</text>
<text x="183.5" y="413.71" font-size="6.8" text-anchor="middle" fill="#222" font-weight="normal" textLength="10.4" lengthAdjust="spacingAndGlyphs" stroke="#222" stroke-width="0.15">215</text>
<text x="228.2" y="413.71" font-size="6.8" text-anchor="middle" fill="#222" font-weight="normal" textLength="10.4" lengthAdjust="spacingAndGlyphs" stroke="#222" stroke-width="0.15">208</text>
<line x1="31.0" y1="422.0" x2="36.3" y2="422.0" stroke="#d8b060" stroke-width="1.8"/>
<text x="48.3" y="424.41" font-size="6.8" text-anchor="middle" fill="#222" font-weight="normal" textLength="3.6" lengthAdjust="spacingAndGlyphs" stroke="#222" stroke-width="0.15">6</text>
<text x="93.3" y="424.41" font-size="6.8" text-anchor="middle" fill="#222" font-weight="normal" textLength="3.6" lengthAdjust="spacingAndGlyphs" stroke="#222" stroke-width="0.15">5</text>
<text x="138.4" y="424.41" font-size="6.8" text-anchor="middle" fill="#222" font-weight="normal" textLength="3.6" lengthAdjust="spacingAndGlyphs" stroke="#222" stroke-width="0.15">2</text>
<text x="183.5" y="424.41" font-size="6.8" text-anchor="middle" fill="#222" font-weight="normal" textLength="3.6" lengthAdjust="spacingAndGlyphs" stroke="#222" stroke-width="0.15">2</text>
<text x="228.2" y="424.41" font-size="6.8" text-anchor="middle" fill="#222" font-weight="normal" textLength="3.6" lengthAdjust="spacingAndGlyphs" stroke="#222" stroke-width="0.15">1</text>
<line x1="48.3" y1="428.6" x2="48.3" y2="432.40000000000003" stroke="#2a2a2a" stroke-width="1"/>
<text x="48.3" y="440.61" font-size="6.8" text-anchor="middle" fill="#333" font-weight="normal" textLength="3.6" lengthAdjust="spacingAndGlyphs" stroke="#333" stroke-width="0.15">0</text>
<line x1="93.3" y1="428.6" x2="93.3" y2="432.40000000000003" stroke="#2a2a2a" stroke-width="1"/>
<text x="93.3" y="440.61" font-size="6.8" text-anchor="middle" fill="#333" font-weight="normal" textLength="3.6" lengthAdjust="spacingAndGlyphs" stroke="#333" stroke-width="0.15">6</text>
<line x1="138.4" y1="428.6" x2="138.4" y2="432.40000000000003" stroke="#2a2a2a" stroke-width="1"/>
<text x="138.4" y="440.61" font-size="6.8" text-anchor="middle" fill="#333" font-weight="normal" textLength="6.9" lengthAdjust="spacingAndGlyphs" stroke="#333" stroke-width="0.15">12</text>
<line x1="183.5" y1="428.6" x2="183.5" y2="432.40000000000003" stroke="#2a2a2a" stroke-width="1"/>
<text x="183.5" y="440.61" font-size="6.8" text-anchor="middle" fill="#333" font-weight="normal" textLength="6.9" lengthAdjust="spacingAndGlyphs" stroke="#333" stroke-width="0.15">18</text>
<line x1="228.2" y1="428.6" x2="228.2" y2="432.40000000000003" stroke="#2a2a2a" stroke-width="1"/>
<text x="228.2" y="440.61" font-size="6.8" text-anchor="middle" fill="#333" font-weight="normal" textLength="6.9" lengthAdjust="spacingAndGlyphs" stroke="#333" stroke-width="0.15">24</text>
<text x="138.4" y="453.11" font-size="8.2" text-anchor="middle" fill="#333" font-weight="normal" textLength="23" lengthAdjust="spacingAndGlyphs" stroke="#333" stroke-width="0.15">Months</text>
<text x="7.05" y="480.90000000000003" font-size="12.4" text-anchor="start" fill="#111" font-weight="bold" stroke="#111" stroke-width="0.55">E</text>
<line x1="39.3" y1="487.5" x2="39.3" y2="632.5" stroke="#2a2a2a" stroke-width="1.1"/>
<line x1="38.8" y1="632.0" x2="239.6" y2="632.0" stroke="#2a2a2a" stroke-width="1.1"/>
<line x1="36.099999999999994" y1="494.25" x2="39.3" y2="494.25" stroke="#2a2a2a" stroke-width="1"/>
<text x="32.75" y="496.66" font-size="6.8" text-anchor="end" fill="#333" font-weight="normal" textLength="12.0" lengthAdjust="spacingAndGlyphs" stroke="#333" stroke-width="0.15">1.00</text>
<line x1="36.099999999999994" y1="527.05" x2="39.3" y2="527.05" stroke="#2a2a2a" stroke-width="1"/>
<text x="32.75" y="529.46" font-size="6.8" text-anchor="end" fill="#333" font-weight="normal" textLength="12.0" lengthAdjust="spacingAndGlyphs" stroke="#333" stroke-width="0.15">0.75</text>
<line x1="36.099999999999994" y1="559.9" x2="39.3" y2="559.9" stroke="#2a2a2a" stroke-width="1"/>
<text x="32.75" y="562.31" font-size="6.8" text-anchor="end" fill="#333" font-weight="normal" textLength="12.0" lengthAdjust="spacingAndGlyphs" stroke="#333" stroke-width="0.15">0.50</text>
<line x1="36.099999999999994" y1="592.7" x2="39.3" y2="592.7" stroke="#2a2a2a" stroke-width="1"/>
<text x="32.75" y="595.11" font-size="6.8" text-anchor="end" fill="#333" font-weight="normal" textLength="12.0" lengthAdjust="spacingAndGlyphs" stroke="#333" stroke-width="0.15">0.25</text>
<line x1="36.099999999999994" y1="625.5" x2="39.3" y2="625.5" stroke="#2a2a2a" stroke-width="1"/>
<text x="32.75" y="627.91" font-size="6.8" text-anchor="end" fill="#333" font-weight="normal" textLength="12.0" lengthAdjust="spacingAndGlyphs" stroke="#333" stroke-width="0.15">0.00</text>
<line x1="48.5" y1="632.0" x2="48.5" y2="635.8" stroke="#2a2a2a" stroke-width="1"/>
<text x="48.5" y="645.01" font-size="6.8" text-anchor="middle" fill="#333" font-weight="normal" textLength="3.6" lengthAdjust="spacingAndGlyphs" stroke="#333" stroke-width="0.15">0</text>
<line x1="93.7" y1="632.0" x2="93.7" y2="635.8" stroke="#2a2a2a" stroke-width="1"/>
<text x="93.7" y="645.01" font-size="6.8" text-anchor="middle" fill="#333" font-weight="normal" textLength="3.6" lengthAdjust="spacingAndGlyphs" stroke="#333" stroke-width="0.15">6</text>
<line x1="138.9" y1="632.0" x2="138.9" y2="635.8" stroke="#2a2a2a" stroke-width="1"/>
<text x="138.9" y="645.01" font-size="6.8" text-anchor="middle" fill="#333" font-weight="normal" textLength="6.9" lengthAdjust="spacingAndGlyphs" stroke="#333" stroke-width="0.15">12</text>
<line x1="184.6" y1="632.0" x2="184.6" y2="635.8" stroke="#2a2a2a" stroke-width="1"/>
<text x="184.6" y="645.01" font-size="6.8" text-anchor="middle" fill="#333" font-weight="normal" textLength="6.9" lengthAdjust="spacingAndGlyphs" stroke="#333" stroke-width="0.15">18</text>
<line x1="230.0" y1="632.0" x2="230.0" y2="635.8" stroke="#2a2a2a" stroke-width="1"/>
<text x="230.0" y="645.01" font-size="6.8" text-anchor="middle" fill="#333" font-weight="normal" textLength="6.9" lengthAdjust="spacingAndGlyphs" stroke="#333" stroke-width="0.15">24</text>
<text x="139.5" y="657.11" font-size="8.2" text-anchor="middle" fill="#333" font-weight="normal" textLength="23" lengthAdjust="spacingAndGlyphs" stroke="#333" stroke-width="0.15">Months</text>
<text transform="translate(14.3,558.9) rotate(-90)" x="0" y="0" font-size="8.7" text-anchor="middle" fill="#3a3a3a" stroke="#3a3a3a" stroke-width="0.15" textLength="58.9" lengthAdjust="spacingAndGlyphs">EFS probability (%)</text>
<polyline points="48.50,494.25 52.50,494.60 55.40,497.30 58.30,499.80 59.20,504.40 63.00,505.40 68.80,506.20 75.00,507.30 82.00,508.60 88.00,509.60 93.00,510.30 97.70,511.00 102.00,512.00 107.30,512.90 113.00,513.30 118.80,513.80 122.00,515.20 126.50,517.50 131.70,519.50 136.00,521.10 140.00,522.50 146.10,524.80 153.00,527.80 160.60,530.40 168.00,531.80 175.00,532.90 180.00,534.30 183.60,535.70 190.00,536.50 201.00,537.80 210.00,538.60 221.10,539.20 239.60,539.20" fill="none" stroke="#452050" stroke-width="1.4" stroke-linejoin="miter"/>
<line x1="97.7" y1="509.4" x2="97.7" y2="512.6" stroke="#452050" stroke-width="0.8"/>
<line x1="98.9" y1="509.6" x2="98.9" y2="512.8" stroke="#452050" stroke-width="0.8"/>
<line x1="119.8" y1="512.6" x2="119.8" y2="515.8" stroke="#452050" stroke-width="0.8"/>
<line x1="147.6" y1="523.8" x2="147.6" y2="527.0" stroke="#452050" stroke-width="0.8"/>
<line x1="209.6" y1="536.9" x2="209.6" y2="540.1" stroke="#452050" stroke-width="0.8"/>
<polyline points="48.50,494.25 59.50,494.25 59.50,533.60 95.60,533.60 95.60,546.70 113.90,546.70 113.90,559.90 130.40,559.90 130.40,573.00 171.50,573.00 171.50,586.10 239.60,586.10 239.60,586.10" fill="none" stroke="#8884b4" stroke-width="1.1" stroke-linejoin="miter"/>
<line x1="169.7" y1="492.5" x2="173.8" y2="492.5" stroke="#452050" stroke-width="1.2"/>
<line x1="171.8" y1="491.3" x2="171.8" y2="493.7" stroke="#452050" stroke-width="0.8"/>
<text x="177.9" y="494.99" font-size="7" text-anchor="start" fill="#3a3a3a" font-weight="normal" textLength="65.5" lengthAdjust="spacingAndGlyphs" stroke="#3a3a3a" stroke-width="0.15">gain(6q27)/MLLT4 = 0</text>
<line x1="169.7" y1="503.2" x2="173.8" y2="503.2" stroke="#8884b4" stroke-width="1.2"/>
<line x1="171.8" y1="502.0" x2="171.8" y2="504.4" stroke="#8884b4" stroke-width="0.8"/>
<text x="177.9" y="505.69" font-size="7" text-anchor="start" fill="#3a3a3a" font-weight="normal" textLength="65.5" lengthAdjust="spacingAndGlyphs" stroke="#3a3a3a" stroke-width="0.15">gain(6q27)/MLLT4 = 1</text>
<text x="176.9" y="626.28" font-size="7" fill="#3a3a3a" stroke="#3a3a3a" stroke-width="0.15" textLength="52.3" lengthAdjust="spacingAndGlyphs">Log Rank, <tspan font-style="italic">P</tspan> = .01</text>
<text x="39.3" y="667.76" font-size="7.2" text-anchor="start" fill="#333" font-weight="normal" textLength="44.3" lengthAdjust="spacingAndGlyphs" stroke="#333" stroke-width="0.15">Number at risk</text>
<line x1="39.3" y1="671.0" x2="39.3" y2="693.5" stroke="#2a2a2a" stroke-width="1.1"/>
<line x1="38.8" y1="693.0" x2="239.6" y2="693.0" stroke="#2a2a2a" stroke-width="1.1"/>
<line x1="30.799999999999997" y1="675.8" x2="36.099999999999994" y2="675.8" stroke="#2a2a2a" stroke-width="1.8"/>
<text x="48.5" y="678.21" font-size="6.8" text-anchor="middle" fill="#222" font-weight="normal" textLength="10.4" lengthAdjust="spacingAndGlyphs" stroke="#222" stroke-width="0.15">307</text>
<text x="93.7" y="678.21" font-size="6.8" text-anchor="middle" fill="#222" font-weight="normal" textLength="10.4" lengthAdjust="spacingAndGlyphs" stroke="#222" stroke-width="0.15">268</text>
<text x="138.9" y="678.21" font-size="6.8" text-anchor="middle" fill="#222" font-weight="normal" textLength="10.4" lengthAdjust="spacingAndGlyphs" stroke="#222" stroke-width="0.15">237</text>
<text x="184.6" y="678.21" font-size="6.8" text-anchor="middle" fill="#222" font-weight="normal" textLength="10.4" lengthAdjust="spacingAndGlyphs" stroke="#222" stroke-width="0.15">205</text>
<text x="230.0" y="678.21" font-size="6.8" text-anchor="middle" fill="#222" font-weight="normal" textLength="10.4" lengthAdjust="spacingAndGlyphs" stroke="#222" stroke-width="0.15">196</text>
<line x1="30.799999999999997" y1="686.3" x2="36.099999999999994" y2="686.3" stroke="#70707e" stroke-width="1.8"/>
<text x="48.5" y="688.71" font-size="6.8" text-anchor="middle" fill="#222" font-weight="normal" textLength="7.0" lengthAdjust="spacingAndGlyphs" stroke="#222" stroke-width="0.15">10</text>
<text x="93.7" y="688.71" font-size="6.8" text-anchor="middle" fill="#222" font-weight="normal" textLength="3.6" lengthAdjust="spacingAndGlyphs" stroke="#222" stroke-width="0.15">7</text>
<text x="138.9" y="688.71" font-size="6.8" text-anchor="middle" fill="#222" font-weight="normal" textLength="3.6" lengthAdjust="spacingAndGlyphs" stroke="#222" stroke-width="0.15">4</text>
<text x="184.6" y="688.71" font-size="6.8" text-anchor="middle" fill="#222" font-weight="normal" textLength="3.6" lengthAdjust="spacingAndGlyphs" stroke="#222" stroke-width="0.15">3</text>
<text x="230.0" y="688.71" font-size="6.8" text-anchor="middle" fill="#222" font-weight="normal" textLength="3.6" lengthAdjust="spacingAndGlyphs" stroke="#222" stroke-width="0.15">3</text>
<line x1="48.5" y1="693.0" x2="48.5" y2="696.8" stroke="#2a2a2a" stroke-width="1"/>
<text x="48.5" y="705.51" font-size="6.8" text-anchor="middle" fill="#333" font-weight="normal" textLength="3.6" lengthAdjust="spacingAndGlyphs" stroke="#333" stroke-width="0.15">0</text>
<line x1="93.7" y1="693.0" x2="93.7" y2="696.8" stroke="#2a2a2a" stroke-width="1"/>
<text x="93.7" y="705.51" font-size="6.8" text-anchor="middle" fill="#333" font-weight="normal" textLength="3.6" lengthAdjust="spacingAndGlyphs" stroke="#333" stroke-width="0.15">6</text>
<line x1="138.9" y1="693.0" x2="138.9" y2="696.8" stroke="#2a2a2a" stroke-width="1"/>
<text x="138.9" y="705.51" font-size="6.8" text-anchor="middle" fill="#333" font-weight="normal" textLength="6.9" lengthAdjust="spacingAndGlyphs" stroke="#333" stroke-width="0.15">12</text>
<line x1="184.6" y1="693.0" x2="184.6" y2="696.8" stroke="#2a2a2a" stroke-width="1"/>
<text x="184.6" y="705.51" font-size="6.8" text-anchor="middle" fill="#333" font-weight="normal" textLength="6.9" lengthAdjust="spacingAndGlyphs" stroke="#333" stroke-width="0.15">18</text>
<line x1="230.0" y1="693.0" x2="230.0" y2="696.8" stroke="#2a2a2a" stroke-width="1"/>
<text x="230.0" y="705.51" font-size="6.8" text-anchor="middle" fill="#333" font-weight="normal" textLength="6.9" lengthAdjust="spacingAndGlyphs" stroke="#333" stroke-width="0.15">24</text>
<text x="139.5" y="717.51" font-size="8.2" text-anchor="middle" fill="#333" font-weight="normal" textLength="23" lengthAdjust="spacingAndGlyphs" stroke="#333" stroke-width="0.15">Months</text>
<text x="264.15" y="480.90000000000003" font-size="12.4" text-anchor="start" fill="#111" font-weight="bold" stroke="#111" stroke-width="0.55">F</text>
<line x1="296.3" y1="487.5" x2="296.3" y2="632.5" stroke="#2a2a2a" stroke-width="1.1"/>
<line x1="295.8" y1="632.0" x2="495.8" y2="632.0" stroke="#2a2a2a" stroke-width="1.1"/>
<line x1="293.1" y1="495.0" x2="296.3" y2="495.0" stroke="#2a2a2a" stroke-width="1"/>
<text x="289.5" y="497.41" font-size="6.8" text-anchor="end" fill="#333" font-weight="normal" textLength="12.0" lengthAdjust="spacingAndGlyphs" stroke="#333" stroke-width="0.15">1.00</text>
<line x1="293.1" y1="527.7" x2="296.3" y2="527.7" stroke="#2a2a2a" stroke-width="1"/>
<text x="289.5" y="530.11" font-size="6.8" text-anchor="end" fill="#333" font-weight="normal" textLength="12.0" lengthAdjust="spacingAndGlyphs" stroke="#333" stroke-width="0.15">0.75</text>
<line x1="293.1" y1="560.4" x2="296.3" y2="560.4" stroke="#2a2a2a" stroke-width="1"/>
<text x="289.5" y="562.81" font-size="6.8" text-anchor="end" fill="#333" font-weight="normal" textLength="12.0" lengthAdjust="spacingAndGlyphs" stroke="#333" stroke-width="0.15">0.50</text>
<line x1="293.1" y1="593.0" x2="296.3" y2="593.0" stroke="#2a2a2a" stroke-width="1"/>
<text x="289.5" y="595.41" font-size="6.8" text-anchor="end" fill="#333" font-weight="normal" textLength="12.0" lengthAdjust="spacingAndGlyphs" stroke="#333" stroke-width="0.15">0.25</text>
<line x1="293.1" y1="625.75" x2="296.3" y2="625.75" stroke="#2a2a2a" stroke-width="1"/>
<text x="289.5" y="628.16" font-size="6.8" text-anchor="end" fill="#333" font-weight="normal" textLength="12.0" lengthAdjust="spacingAndGlyphs" stroke="#333" stroke-width="0.15">0.00</text>
<line x1="305.0" y1="632.0" x2="305.0" y2="635.8" stroke="#2a2a2a" stroke-width="1"/>
<text x="305.0" y="644.61" font-size="6.8" text-anchor="middle" fill="#333" font-weight="normal" textLength="3.6" lengthAdjust="spacingAndGlyphs" stroke="#333" stroke-width="0.15">0</text>
<line x1="350.0" y1="632.0" x2="350.0" y2="635.8" stroke="#2a2a2a" stroke-width="1"/>
<text x="350.0" y="644.61" font-size="6.8" text-anchor="middle" fill="#333" font-weight="normal" textLength="3.6" lengthAdjust="spacingAndGlyphs" stroke="#333" stroke-width="0.15">6</text>
<line x1="395.0" y1="632.0" x2="395.0" y2="635.8" stroke="#2a2a2a" stroke-width="1"/>
<text x="395.0" y="644.61" font-size="6.8" text-anchor="middle" fill="#333" font-weight="normal" textLength="6.9" lengthAdjust="spacingAndGlyphs" stroke="#333" stroke-width="0.15">12</text>
<line x1="440.0" y1="632.0" x2="440.0" y2="635.8" stroke="#2a2a2a" stroke-width="1"/>
<text x="440.0" y="644.61" font-size="6.8" text-anchor="middle" fill="#333" font-weight="normal" textLength="6.9" lengthAdjust="spacingAndGlyphs" stroke="#333" stroke-width="0.15">18</text>
<line x1="485.0" y1="632.0" x2="485.0" y2="635.8" stroke="#2a2a2a" stroke-width="1"/>
<text x="485.0" y="644.61" font-size="6.8" text-anchor="middle" fill="#333" font-weight="normal" textLength="6.9" lengthAdjust="spacingAndGlyphs" stroke="#333" stroke-width="0.15">24</text>
<text x="395.0" y="656.91" font-size="8.2" text-anchor="middle" fill="#333" font-weight="normal" textLength="23" lengthAdjust="spacingAndGlyphs" stroke="#333" stroke-width="0.15">Months</text>
<text transform="translate(272.3,559.8) rotate(-90)" x="0" y="0" font-size="8.7" text-anchor="middle" fill="#3a3a3a" stroke="#3a3a3a" stroke-width="0.15" textLength="59.7" lengthAdjust="spacingAndGlyphs">CIR probability (%)</text>
<polyline points="305.00,625.75 343.30,625.75 343.30,607.00 360.60,607.00 360.60,588.30 378.00,588.30 378.00,570.00 420.00,570.00 420.00,551.30 495.80,551.30 495.80,551.30" fill="none" stroke="#8884b4" stroke-width="1.1" stroke-linejoin="miter"/>
<line x1="305.2" y1="625.75" x2="308.8" y2="625.75" stroke="#8884b4" stroke-width="1.2"/>
<line x1="307" y1="624.1" x2="307" y2="627.4" stroke="#8884b4" stroke-width="0.9"/>
<polyline points="314.50,626.20 318.00,625.20 322.50,623.70 326.00,622.40 330.00,621.20 335.00,620.20 340.00,619.50 345.00,619.00 350.00,618.60 356.00,618.20 362.50,617.50 367.50,616.30 372.00,614.20 377.50,612.00 383.00,610.20 390.00,608.20 395.00,607.20 400.00,605.60 405.00,604.00 410.00,602.70 415.00,601.00 420.00,599.40 425.00,598.10 430.00,597.00 438.00,595.90 445.00,595.10 455.00,594.50 470.00,593.80 485.00,593.40 495.80,593.20" fill="none" stroke="#452050" stroke-width="1.4" stroke-linejoin="miter"/>
<line x1="322.5" y1="622.1" x2="322.5" y2="625.3" stroke="#452050" stroke-width="0.8"/>
<line x1="394.7" y1="605.7" x2="394.7" y2="608.9" stroke="#452050" stroke-width="0.8"/>
<line x1="456" y1="592.8" x2="456" y2="596.0" stroke="#452050" stroke-width="0.8"/>
<line x1="316" y1="624.5" x2="316" y2="627.8" stroke="#452050" stroke-width="0.9"/>
<line x1="418.3" y1="490.8" x2="422.40000000000003" y2="490.8" stroke="#452050" stroke-width="1.2"/>
<line x1="420.40000000000003" y1="489.6" x2="420.40000000000003" y2="492.0" stroke="#452050" stroke-width="0.8"/>
<text x="426.4" y="493.29" font-size="7" text-anchor="start" fill="#3a3a3a" font-weight="normal" textLength="65.5" lengthAdjust="spacingAndGlyphs" stroke="#3a3a3a" stroke-width="0.15">gain(6q27)/MLLT4 = 0</text>
<line x1="418.3" y1="501.2" x2="422.40000000000003" y2="501.2" stroke="#8884b4" stroke-width="1.2"/>
<line x1="420.40000000000003" y1="500.0" x2="420.40000000000003" y2="502.4" stroke="#8884b4" stroke-width="0.8"/>
<text x="426.4" y="503.69" font-size="7" text-anchor="start" fill="#3a3a3a" font-weight="normal" textLength="65.5" lengthAdjust="spacingAndGlyphs" stroke="#3a3a3a" stroke-width="0.15">gain(6q27)/MLLT4 = 1</text>
<text x="433.6" y="625.88" font-size="7" fill="#3a3a3a" stroke="#3a3a3a" stroke-width="0.15" textLength="57.7" lengthAdjust="spacingAndGlyphs">Gray’s Test, <tspan font-style="italic">P</tspan> = .07</text>
<text x="296.3" y="667.76" font-size="7.2" text-anchor="start" fill="#333" font-weight="normal" textLength="44.3" lengthAdjust="spacingAndGlyphs" stroke="#333" stroke-width="0.15">Number at risk</text>
<line x1="296.3" y1="671.0" x2="296.3" y2="693.5" stroke="#2a2a2a" stroke-width="1.1"/>
<line x1="295.8" y1="693.0" x2="495.8" y2="693.0" stroke="#2a2a2a" stroke-width="1.1"/>
<line x1="287.8" y1="675.8" x2="293.1" y2="675.8" stroke="#2a2a2a" stroke-width="1.8"/>
<text x="305.0" y="678.21" font-size="6.8" text-anchor="middle" fill="#222" font-weight="normal" textLength="10.4" lengthAdjust="spacingAndGlyphs" stroke="#222" stroke-width="0.15">283</text>
<text x="350.0" y="678.21" font-size="6.8" text-anchor="middle" fill="#222" font-weight="normal" textLength="10.4" lengthAdjust="spacingAndGlyphs" stroke="#222" stroke-width="0.15">264</text>
<text x="395.0" y="678.21" font-size="6.8" text-anchor="middle" fill="#222" font-weight="normal" textLength="10.4" lengthAdjust="spacingAndGlyphs" stroke="#222" stroke-width="0.15">236</text>
<text x="440.0" y="678.21" font-size="6.8" text-anchor="middle" fill="#222" font-weight="normal" textLength="10.4" lengthAdjust="spacingAndGlyphs" stroke="#222" stroke-width="0.15">214</text>
<text x="485.0" y="678.21" font-size="6.8" text-anchor="middle" fill="#222" font-weight="normal" textLength="10.4" lengthAdjust="spacingAndGlyphs" stroke="#222" stroke-width="0.15">206</text>
<line x1="287.8" y1="686.5" x2="293.1" y2="686.5" stroke="#70707e" stroke-width="1.8"/>
<text x="305.0" y="688.91" font-size="6.8" text-anchor="middle" fill="#222" font-weight="normal" textLength="3.6" lengthAdjust="spacingAndGlyphs" stroke="#222" stroke-width="0.15">7</text>
<text x="350.0" y="688.91" font-size="6.8" text-anchor="middle" fill="#222" font-weight="normal" textLength="3.6" lengthAdjust="spacingAndGlyphs" stroke="#222" stroke-width="0.15">6</text>
<text x="395.0" y="688.91" font-size="6.8" text-anchor="middle" fill="#222" font-weight="normal" textLength="3.6" lengthAdjust="spacingAndGlyphs" stroke="#222" stroke-width="0.15">4</text>
<text x="440.0" y="688.91" font-size="6.8" text-anchor="middle" fill="#222" font-weight="normal" textLength="3.6" lengthAdjust="spacingAndGlyphs" stroke="#222" stroke-width="0.15">3</text>
<text x="485.0" y="688.91" font-size="6.8" text-anchor="middle" fill="#222" font-weight="normal" textLength="3.6" lengthAdjust="spacingAndGlyphs" stroke="#222" stroke-width="0.15">3</text>
<line x1="305.0" y1="693.0" x2="305.0" y2="696.8" stroke="#2a2a2a" stroke-width="1"/>
<text x="305.0" y="705.51" font-size="6.8" text-anchor="middle" fill="#333" font-weight="normal" textLength="3.6" lengthAdjust="spacingAndGlyphs" stroke="#333" stroke-width="0.15">0</text>
<line x1="350.0" y1="693.0" x2="350.0" y2="696.8" stroke="#2a2a2a" stroke-width="1"/>
<text x="350.0" y="705.51" font-size="6.8" text-anchor="middle" fill="#333" font-weight="normal" textLength="3.6" lengthAdjust="spacingAndGlyphs" stroke="#333" stroke-width="0.15">6</text>
<line x1="395.0" y1="693.0" x2="395.0" y2="696.8" stroke="#2a2a2a" stroke-width="1"/>
<text x="395.0" y="705.51" font-size="6.8" text-anchor="middle" fill="#333" font-weight="normal" textLength="6.9" lengthAdjust="spacingAndGlyphs" stroke="#333" stroke-width="0.15">12</text>
<line x1="440.0" y1="693.0" x2="440.0" y2="696.8" stroke="#2a2a2a" stroke-width="1"/>
<text x="440.0" y="705.51" font-size="6.8" text-anchor="middle" fill="#333" font-weight="normal" textLength="6.9" lengthAdjust="spacingAndGlyphs" stroke="#333" stroke-width="0.15">18</text>
<line x1="485.0" y1="693.0" x2="485.0" y2="696.8" stroke="#2a2a2a" stroke-width="1"/>
<text x="485.0" y="705.51" font-size="6.8" text-anchor="middle" fill="#333" font-weight="normal" textLength="6.9" lengthAdjust="spacingAndGlyphs" stroke="#333" stroke-width="0.15">24</text>
<text x="395.0" y="717.51" font-size="8.2" text-anchor="middle" fill="#333" font-weight="normal" textLength="23" lengthAdjust="spacingAndGlyphs" stroke="#333" stroke-width="0.15">Months</text>
<text x="264.15" y="281.7" font-size="12.4" text-anchor="start" fill="#111" font-weight="bold" stroke="#111" stroke-width="0.55">D</text>
<line x1="305.5" y1="304.25" x2="512.5" y2="304.25" stroke="#6ab0dc" stroke-width="1.25"/>
<rect x="352.80" y="302.15" width="128.50" height="4.20" fill="#15468a"/>
<polygon points="415.0,306.05 418.0,306.05 416.5,302.65" fill="#b0c8ec" stroke="#7090c0" stroke-width="0.3"/>
<text x="301.7" y="306.95" font-size="7.6" text-anchor="end" fill="#2a2a2a" font-weight="normal" textLength="26.5" lengthAdjust="spacingAndGlyphs" stroke="#2a2a2a" stroke-width="0.15">UPN 512</text>
<line x1="305.5" y1="314.7" x2="512.5" y2="314.7" stroke="#d24a68" stroke-width="1.25"/>
<rect x="351.30" y="312.60" width="130.00" height="4.20" fill="#15468a"/>
<polygon points="415.0,316.5 418.0,316.5 416.5,313.09999999999997" fill="#b0c8ec" stroke="#7090c0" stroke-width="0.3"/>
<text x="301.7" y="317.4" font-size="7.6" text-anchor="end" fill="#2a2a2a" font-weight="normal" textLength="26.5" lengthAdjust="spacingAndGlyphs" stroke="#2a2a2a" stroke-width="0.15">UPN 296</text>
<line x1="305.5" y1="325.15" x2="512.5" y2="325.15" stroke="#66bc66" stroke-width="1.25"/>
<rect x="352.80" y="323.05" width="126.20" height="4.20" fill="#15468a"/>
<polygon points="414.0,326.95 417.0,326.95 415.5,323.54999999999995" fill="#b0c8ec" stroke="#7090c0" stroke-width="0.3"/>
<text x="301.7" y="327.85" font-size="7.6" text-anchor="end" fill="#2a2a2a" font-weight="normal" textLength="26.5" lengthAdjust="spacingAndGlyphs" stroke="#2a2a2a" stroke-width="0.15">UPN 822</text>
<line x1="305.5" y1="335.6" x2="512.5" y2="335.6" stroke="#4a70a8" stroke-width="1.25"/>
<rect x="351.30" y="333.50" width="129.70" height="4.20" fill="#15468a"/>
<polygon points="414.8,337.40000000000003 417.8,337.40000000000003 416.3,334.0" fill="#b0c8ec" stroke="#7090c0" stroke-width="0.3"/>
<text x="301.7" y="338.3" font-size="7.6" text-anchor="end" fill="#2a2a2a" font-weight="normal" textLength="26.5" lengthAdjust="spacingAndGlyphs" stroke="#2a2a2a" stroke-width="0.15">UPN 803</text>
<line x1="305.5" y1="346.05" x2="512.5" y2="346.05" stroke="#d8509c" stroke-width="1.25"/>
<rect x="351.30" y="343.95" width="124.20" height="4.20" fill="#15468a"/>
<polygon points="411.5,347.85 414.5,347.85 413.0,344.45" fill="#b0c8ec" stroke="#7090c0" stroke-width="0.3"/>
<text x="301.7" y="348.75" font-size="7.6" text-anchor="end" fill="#2a2a2a" font-weight="normal" textLength="29.9" lengthAdjust="spacingAndGlyphs" stroke="#2a2a2a" stroke-width="0.15">UPN 1212</text>
<line x1="305.5" y1="356.5" x2="512.5" y2="356.5" stroke="#7cb0e0" stroke-width="1.25"/>
<rect x="352.80" y="354.40" width="126.00" height="4.20" fill="#15468a"/>
<polygon points="414.0,358.3 417.0,358.3 415.5,354.9" fill="#b0c8ec" stroke="#7090c0" stroke-width="0.3"/>
<text x="301.7" y="359.2" font-size="7.6" text-anchor="end" fill="#2a2a2a" font-weight="normal" textLength="33.6" lengthAdjust="spacingAndGlyphs" stroke="#2a2a2a" stroke-width="0.15">UPN 14052</text>
<line x1="305.5" y1="366.95" x2="512.5" y2="366.95" stroke="#d85470" stroke-width="1.25"/>
<rect x="352.80" y="364.85" width="128.50" height="4.20" fill="#15468a"/>
<polygon points="414.8,368.75 417.8,368.75 416.3,365.34999999999997" fill="#b0c8ec" stroke="#7090c0" stroke-width="0.3"/>
<text x="301.7" y="369.65" font-size="7.6" text-anchor="end" fill="#2a2a2a" font-weight="normal" textLength="37.3" lengthAdjust="spacingAndGlyphs" stroke="#2a2a2a" stroke-width="0.15">UPN 498184</text>
<line x1="305.5" y1="377.4" x2="512.5" y2="377.4" stroke="#4f9f50" stroke-width="1.25"/>
<rect x="351.30" y="375.30" width="130.00" height="4.20" fill="#15468a"/>
<polygon points="414.8,379.2 417.8,379.2 416.3,375.79999999999995" fill="#b0c8ec" stroke="#7090c0" stroke-width="0.3"/>
<text x="301.7" y="380.1" font-size="7.6" text-anchor="end" fill="#2a2a2a" font-weight="normal" textLength="33.6" lengthAdjust="spacingAndGlyphs" stroke="#2a2a2a" stroke-width="0.15">UPN 11074</text>
<line x1="305.5" y1="387.85" x2="512.5" y2="387.85" stroke="#5f6f80" stroke-width="1.25"/>
<rect x="351.30" y="385.75" width="121.20" height="4.20" fill="#4a535c"/>
<polygon points="410.5,389.65000000000003 413.5,389.65000000000003 412.0,386.25" fill="#b0c8ec" stroke="#7090c0" stroke-width="0.3"/>
<text x="301.7" y="390.55" font-size="7.6" text-anchor="end" fill="#2a2a2a" font-weight="normal" textLength="33.6" lengthAdjust="spacingAndGlyphs" stroke="#2a2a2a" stroke-width="0.15">UPN 11040</text>
<line x1="305.5" y1="398.3" x2="512.5" y2="398.3" stroke="#d0408c" stroke-width="1.25"/>
<rect x="351.30" y="396.20" width="130.00" height="4.20" fill="#15468a"/>
<polygon points="414.8,400.1 417.8,400.1 416.3,396.7" fill="#b0c8ec" stroke="#7090c0" stroke-width="0.3"/>
<text x="301.7" y="401.0" font-size="7.6" text-anchor="end" fill="#2a2a2a" font-weight="normal" textLength="37.3" lengthAdjust="spacingAndGlyphs" stroke="#2a2a2a" stroke-width="0.15">UPN 552596</text>
<text x="339.3" y="408.9" font-size="7.6" text-anchor="middle" fill="#333" font-weight="normal" textLength="20.8" lengthAdjust="spacingAndGlyphs" stroke="#333" stroke-width="0.15">MLLT4</text>
<text x="395.7" y="408.9" font-size="7.6" text-anchor="middle" fill="#333" font-weight="normal" textLength="17.0" lengthAdjust="spacingAndGlyphs" stroke="#333" stroke-width="0.15">KIF25</text>
<text x="419.0" y="408.9" font-size="7.6" text-anchor="middle" fill="#333" font-weight="normal" textLength="21.3" lengthAdjust="spacingAndGlyphs" stroke="#333" stroke-width="0.15">FRMD1</text>
<line x1="305.4" y1="413.3" x2="367.7" y2="413.3" stroke="#c8304c" stroke-width="0.7"/>
<rect x="318.70" y="411.60" width="1.00" height="3.40" fill="#c8304c"/>
<rect x="323.30" y="411.60" width="1.00" height="3.40" fill="#c8304c"/>
<rect x="326.90" y="411.60" width="1.00" height="3.40" fill="#c8304c"/>
<rect x="331.00" y="411.60" width="1.00" height="3.40" fill="#c8304c"/>
<rect x="332.50" y="411.60" width="1.00" height="3.40" fill="#c8304c"/>
<rect x="334.50" y="411.60" width="1.00" height="3.40" fill="#c8304c"/>
<rect x="336.50" y="411.60" width="1.00" height="3.40" fill="#c8304c"/>
<rect x="338.30" y="411.60" width="1.00" height="3.40" fill="#c8304c"/>
<rect x="339.80" y="411.60" width="1.00" height="3.40" fill="#c8304c"/>
<rect x="341.80" y="411.60" width="1.00" height="3.40" fill="#c8304c"/>
<rect x="343.30" y="411.60" width="1.00" height="3.40" fill="#c8304c"/>
<rect x="344.90" y="411.60" width="1.00" height="3.40" fill="#c8304c"/>
<rect x="346.50" y="411.60" width="1.00" height="3.40" fill="#c8304c"/>
<rect x="356.10" y="411.60" width="1.00" height="3.40" fill="#c8304c"/>
<rect x="358.00" y="411.60" width="1.00" height="3.40" fill="#c8304c"/>
<rect x="359.80" y="411.60" width="1.00" height="3.40" fill="#c8304c"/>
<rect x="365.30" y="411.60" width="1.00" height="3.40" fill="#c8304c"/>
<rect x="332.00" y="412.20" width="14.00" height="2.20" fill="#c8304c"/>
<line x1="371.5" y1="411.8" x2="371.5" y2="414.8" stroke="#a08090" stroke-width="0.7"/>
<line x1="391.5" y1="413.2" x2="404.2" y2="413.2" stroke="#c8304c" stroke-width="0.7"/>
<rect x="391.10" y="411.60" width="1.00" height="3.40" fill="#c8304c"/>
<rect x="396.00" y="411.60" width="1.00" height="3.40" fill="#c8304c"/>
<rect x="397.10" y="411.60" width="1.00" height="3.40" fill="#c8304c"/>
<rect x="400.10" y="411.60" width="1.00" height="3.40" fill="#c8304c"/>
<rect x="401.20" y="411.60" width="1.00" height="3.40" fill="#c8304c"/>
<rect x="403.60" y="411.60" width="1.00" height="3.40" fill="#c8304c"/>
<line x1="408.3" y1="413.2" x2="418" y2="413.2" stroke="#c8304c" stroke-width="0.7"/>
<rect x="408.10" y="411.60" width="1.00" height="3.40" fill="#c8304c"/>
<rect x="409.10" y="411.60" width="1.00" height="3.40" fill="#c8304c"/>
<rect x="410.30" y="411.60" width="1.00" height="3.40" fill="#c8304c"/>
<rect x="412.70" y="411.60" width="1.00" height="3.40" fill="#c8304c"/>
<rect x="417.40" y="411.60" width="1.00" height="3.40" fill="#c8304c"/>
<text x="343.2" y="420.13" font-size="4.6" text-anchor="middle" fill="#555" font-weight="normal" textLength="18.5" lengthAdjust="spacingAndGlyphs" stroke="#555" stroke-width="0.15">168300kb</text>
<text x="389.6" y="420.13" font-size="4.6" text-anchor="middle" fill="#555" font-weight="normal" textLength="18.5" lengthAdjust="spacingAndGlyphs" stroke="#555" stroke-width="0.15">168400kb</text>
<text x="436.4" y="420.13" font-size="4.6" text-anchor="middle" fill="#555" font-weight="normal" textLength="18.5" lengthAdjust="spacingAndGlyphs" stroke="#555" stroke-width="0.15">168500kb</text>
<text x="483.5" y="420.13" font-size="4.6" text-anchor="middle" fill="#555" font-weight="normal" textLength="18.5" lengthAdjust="spacingAndGlyphs" stroke="#555" stroke-width="0.15">168600kb</text>
<line x1="305" y1="422.3" x2="513" y2="422.3" stroke="#222" stroke-width="0.9"/>
<line x1="305.0" y1="421.3" x2="305.0" y2="423.5" stroke="#222" stroke-width="0.6"/>
<line x1="309.68" y1="421.3" x2="309.68" y2="423.5" stroke="#222" stroke-width="0.6"/>
<line x1="314.36" y1="421.3" x2="314.36" y2="423.5" stroke="#222" stroke-width="0.6"/>
<line x1="319.04" y1="421.3" x2="319.04" y2="423.5" stroke="#222" stroke-width="0.6"/>
<line x1="323.72" y1="421.3" x2="323.72" y2="423.5" stroke="#222" stroke-width="0.6"/>
<line x1="328.4" y1="421.3" x2="328.4" y2="423.5" stroke="#222" stroke-width="0.6"/>
<line x1="333.08" y1="421.3" x2="333.08" y2="423.5" stroke="#222" stroke-width="0.6"/>
<line x1="337.76" y1="421.3" x2="337.76" y2="423.5" stroke="#222" stroke-width="0.6"/>
<line x1="342.44" y1="421.3" x2="342.44" y2="423.5" stroke="#222" stroke-width="0.6"/>
<line x1="347.12" y1="421.3" x2="347.12" y2="423.5" stroke="#222" stroke-width="0.6"/>
<line x1="351.8" y1="421.3" x2="351.8" y2="423.5" stroke="#222" stroke-width="0.6"/>
<line x1="356.48" y1="421.3" x2="356.48" y2="423.5" stroke="#222" stroke-width="0.6"/>
<line x1="361.16" y1="421.3" x2="361.16" y2="423.5" stroke="#222" stroke-width="0.6"/>
<line x1="365.84" y1="421.3" x2="365.84" y2="423.5" stroke="#222" stroke-width="0.6"/>
<line x1="370.52" y1="421.3" x2="370.52" y2="423.5" stroke="#222" stroke-width="0.6"/>
<line x1="375.2" y1="421.3" x2="375.2" y2="423.5" stroke="#222" stroke-width="0.6"/>
<line x1="379.88" y1="421.3" x2="379.88" y2="423.5" stroke="#222" stroke-width="0.6"/>
<line x1="384.56" y1="421.3" x2="384.56" y2="423.5" stroke="#222" stroke-width="0.6"/>
<line x1="389.24" y1="421.3" x2="389.24" y2="423.5" stroke="#222" stroke-width="0.6"/>
<line x1="393.92" y1="421.3" x2="393.92" y2="423.5" stroke="#222" stroke-width="0.6"/>
<line x1="398.6" y1="421.3" x2="398.6" y2="423.5" stroke="#222" stroke-width="0.6"/>
<line x1="403.28" y1="421.3" x2="403.28" y2="423.5" stroke="#222" stroke-width="0.6"/>
<line x1="407.96" y1="421.3" x2="407.96" y2="423.5" stroke="#222" stroke-width="0.6"/>
<line x1="412.64" y1="421.3" x2="412.64" y2="423.5" stroke="#222" stroke-width="0.6"/>
<line x1="417.32" y1="421.3" x2="417.32" y2="423.5" stroke="#222" stroke-width="0.6"/>
<line x1="422.0" y1="421.3" x2="422.0" y2="423.5" stroke="#222" stroke-width="0.6"/>
<line x1="426.68" y1="421.3" x2="426.68" y2="423.5" stroke="#222" stroke-width="0.6"/>
<line x1="431.36" y1="421.3" x2="431.36" y2="423.5" stroke="#222" stroke-width="0.6"/>
<line x1="436.04" y1="421.3" x2="436.04" y2="423.5" stroke="#222" stroke-width="0.6"/>
<line x1="440.72" y1="421.3" x2="440.72" y2="423.5" stroke="#222" stroke-width="0.6"/>
<line x1="445.4" y1="421.3" x2="445.4" y2="423.5" stroke="#222" stroke-width="0.6"/>
<line x1="450.08" y1="421.3" x2="450.08" y2="423.5" stroke="#222" stroke-width="0.6"/>
<line x1="454.76" y1="421.3" x2="454.76" y2="423.5" stroke="#222" stroke-width="0.6"/>
<line x1="459.44" y1="421.3" x2="459.44" y2="423.5" stroke="#222" stroke-width="0.6"/>
<line x1="464.12" y1="421.3" x2="464.12" y2="423.5" stroke="#222" stroke-width="0.6"/>
<line x1="468.8" y1="421.3" x2="468.8" y2="423.5" stroke="#222" stroke-width="0.6"/>
<line x1="473.48" y1="421.3" x2="473.48" y2="423.5" stroke="#222" stroke-width="0.6"/>
<line x1="478.16" y1="421.3" x2="478.16" y2="423.5" stroke="#222" stroke-width="0.6"/>
<line x1="482.84" y1="421.3" x2="482.84" y2="423.5" stroke="#222" stroke-width="0.6"/>
<line x1="487.52" y1="421.3" x2="487.52" y2="423.5" stroke="#222" stroke-width="0.6"/>
<line x1="492.2" y1="421.3" x2="492.2" y2="423.5" stroke="#222" stroke-width="0.6"/>
<line x1="496.88" y1="421.3" x2="496.88" y2="423.5" stroke="#222" stroke-width="0.6"/>
<line x1="501.56" y1="421.3" x2="501.56" y2="423.5" stroke="#222" stroke-width="0.6"/>
<line x1="506.24" y1="421.3" x2="506.24" y2="423.5" stroke="#222" stroke-width="0.6"/>
<line x1="510.92" y1="421.3" x2="510.92" y2="423.5" stroke="#222" stroke-width="0.6"/>
<line x1="335.8" y1="420.8" x2="335.8" y2="424.4" stroke="#222" stroke-width="0.8"/>
<line x1="382.6" y1="420.8" x2="382.6" y2="424.4" stroke="#222" stroke-width="0.8"/>
<line x1="429.0" y1="420.8" x2="429.0" y2="424.4" stroke="#222" stroke-width="0.8"/>
<line x1="476.2" y1="420.8" x2="476.2" y2="424.4" stroke="#222" stroke-width="0.8"/>
<rect x="0.5" y="0.5" width="518.8" height="725.8" fill="none" stroke="#4a4a4a" stroke-width="1.2"/>
</svg></body></html>
